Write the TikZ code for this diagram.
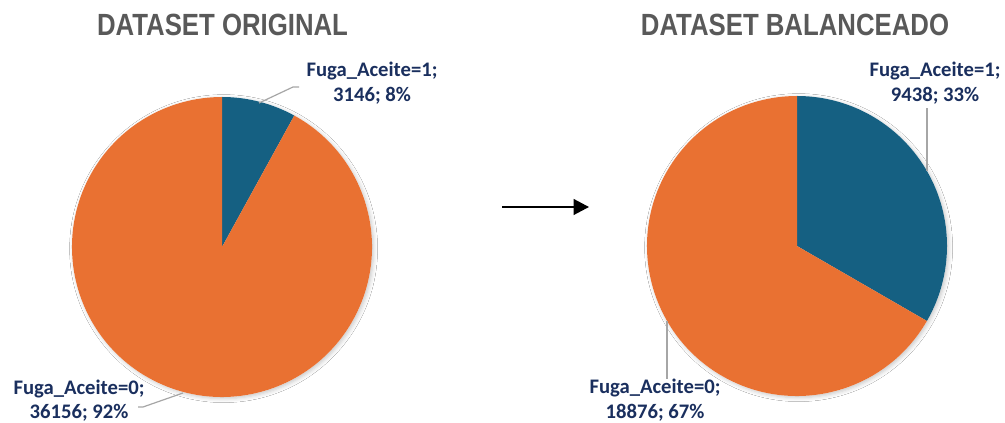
\documentclass[tikz,border=0pt]{standalone}
\usepackage{fontspec}
\newfontfamily\titlefont[FakeStretch=0.84]{Liberation Sans}
\newfontfamily\labelfont{Carlito}
\usetikzlibrary{arrows.meta,shadows.blur}
\definecolor{slorange}{HTML}{E97132}
\definecolor{slblue}{HTML}{156082}
\definecolor{lbltext}{HTML}{1A2F5E}
\definecolor{ttlgray}{HTML}{595959}
\definecolor{leadgray}{HTML}{A6A6A6}
\tikzset{
  charttitle/.style={text=ttlgray, inner sep=0pt, font=\titlefont\bfseries\fontsize{23}{27}\selectfont},
  datalabel/.style={text=lbltext, inner sep=0pt, align=center, font=\labelfont\bfseries\fontsize{15.5}{18.5}\selectfont},
  leader/.style={draw=leadgray, line width=0.9pt},
  pieshadow/.style={fill=white, blur shadow={shadow xshift=1.2pt, shadow yshift=-1.2pt, shadow blur radius=3pt, shadow opacity=22}},
  flowarrow/.style={draw=black, line width=1.3pt, -{Triangle[length=11.5pt,width=11.8pt]}}
}
\begin{document}
\begin{tikzpicture}[x=0.75pt,y=-0.75pt]
\useasboundingbox (0,0) rectangle (1005,423);
\fill[white] (0,0) rectangle (1005,423);

% titles
\node[charttitle] (t1) at (222.5,25) {DATASET ORIGINAL};
\node[charttitle] (t2) at (795,25) {DATASET BALANCEADO};

% pie 1
\coordinate (c1) at (222,247);
\path[pieshadow] (c1) circle[radius=150];
\fill[slblue] (c1) -- ++(-90:150) arc[start angle=-90, end angle=-61.2, radius=150] -- cycle;
\fill[slorange] (c1) -- ++(-61.2:150) arc[start angle=-61.2, end angle=270, radius=150] -- cycle;

% pie 2
\coordinate (c2) at (797,246);
\path[pieshadow] (c2) circle[radius=150];
\fill[slblue] (c2) -- ++(-90:150) arc[start angle=-90, end angle=30, radius=150] -- cycle;
\fill[slorange] (c2) -- ++(30:150) arc[start angle=30, end angle=270, radius=150] -- cycle;

% labels
\node[datalabel] (l1a) at (372,83) {Fuga\_Aceite=1;\\3146; 8\%};
\node[datalabel] (l1b) at (79,400.5) {Fuga\_Aceite=0;\\36156; 92\%};
\node[datalabel] (l2a) at (935,83) {Fuga\_Aceite=1;\\9438; 33\%};
\node[datalabel] (l2b) at (655,400) {Fuga\_Aceite=0;\\18876; 67\%};

% leader lines
\coordinate (p1a) at (259,103);
\coordinate (k1a) at (293,87);
\coordinate (e1a) at (299,87);
\draw[leader] (p1a) -- (k1a) -- (e1a);
\coordinate (p1b) at (183,393);
\coordinate (k1b) at (143,407);
\coordinate (e1b) at (138,407);
\draw[leader] (p1b) -- (k1b) -- (e1b);
\coordinate (p2a) at (927,171);
\coordinate (e2a) at (927,108);
\draw[leader] (p2a) -- (e2a);
\coordinate (p2b) at (667,321);
\coordinate (e2b) at (667,379);
\draw[leader] (p2b) -- (e2b);

% arrow
\coordinate (as) at (502,207);
\coordinate (ae) at (589,207);
\draw[flowarrow] (as) -- (ae);
\end{tikzpicture}
\end{document}
